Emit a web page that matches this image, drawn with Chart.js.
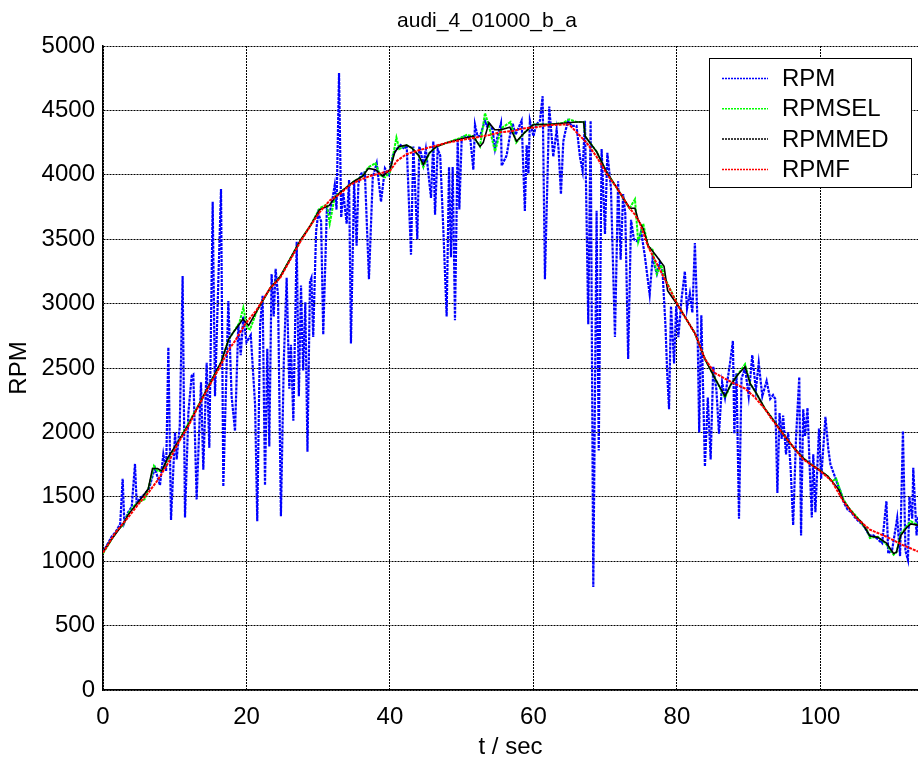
<!DOCTYPE html>
<html lang="en">
<head>
  <meta charset="UTF-8">
  <title>audi_4_01000_b_a</title>
  <script src="https://cdn.jsdelivr.net/npm/chart.js"></script>
  <style>
    html, body {
      margin: 0;
      padding: 0;
      background: #fff;
      overflow: hidden;
    }
    canvas {
      display: block;
    }
  </style>
</head>
<body>
  <canvas id="rpmChart" width="918" height="762"></canvas>

  <script>
    const chartTitle = 'audi_4_01000_b_a';
    const seriesNames = ['RPM', 'RPMSEL', 'RPMMED', 'RPMF'];
    const xTicks = [0, 20, 40, 60, 80, 100];
    const yTicks = [0, 500, 1000, 1500, 2000, 2500, 3000, 3500, 4000, 4500, 5000];

    // raw RPM (blue)
    const rpmTime = [0.0, 0.6, 1.2, 1.8, 2.4, 2.74, 2.97, 3.5, 4.0, 4.46, 4.69, 5.2, 5.8, 6.4, 7.0, 7.25, 7.94, 8.41, 8.8, 9.11,
      9.48, 10.04, 10.27, 10.7, 11.1, 11.43, 11.9, 12.36, 12.59, 13.05, 13.66, 13.98, 14.45, 14.82, 15.29, 15.61, 16.45, 16.77, 17.47, 17.93,
      18.4, 18.86, 19.2, 19.56, 20.0, 20.6, 21.2, 21.5, 21.9, 22.25, 22.58, 22.9, 23.18, 23.5, 23.8, 24.06, 24.4, 24.8, 25.2, 25.6,
      25.97, 26.2, 26.53, 27.0, 27.3, 27.6, 27.9, 28.2, 28.5, 28.85, 29.05, 29.3, 29.7, 30.0, 30.4, 30.7, 31.2, 31.6, 32.0, 32.3,
      32.55, 32.9, 33.2, 33.5, 33.96, 34.3, 34.56, 35.0, 35.35, 35.6, 36.0, 36.5, 37.07, 37.6, 38.15, 38.75, 39.3, 39.86, 40.4, 40.93,
      41.5, 42.0, 42.33, 42.93, 43.26, 43.81, 44.09, 44.4, 44.65, 45.0, 45.72, 46.04, 46.28, 46.65, 47.0, 47.44, 47.9, 48.23, 48.5, 48.74,
      49.06, 49.44, 49.67, 50.0, 50.4, 50.7, 51.2, 51.62, 51.85, 52.2, 52.55, 53.24, 53.5, 53.8, 54.3, 54.64, 55.0, 55.47, 55.57, 56.26,
      56.7, 57.1, 57.5, 58.35, 58.8, 59.05, 59.3, 59.5, 60.0, 60.4, 60.9, 61.28, 61.6, 62.2, 62.76, 63.23, 63.5, 63.83, 64.16, 64.5,
      64.85, 65.3, 66.0, 66.48, 66.85, 67.18, 67.64, 67.97, 68.34, 68.8, 69.1, 69.5, 69.97, 70.3, 70.8, 71.36, 71.8, 72.15, 72.5, 72.8,
      73.2, 73.6, 74.0, 74.6, 75.0, 75.5, 76.2, 76.6, 77.2, 77.6, 78.0, 78.4, 78.65, 78.9, 79.17, 79.6, 79.9, 80.2, 80.65, 81.1,
      81.4, 81.8, 82.15, 82.5, 82.85, 83.1, 83.4, 83.9, 84.3, 84.7, 85.06, 85.5, 85.86, 86.3, 86.7, 87.4, 87.8, 88.0, 88.3, 88.65,
      89.0, 89.5, 90.0, 90.5, 91.0, 91.4, 91.9, 92.5, 93.0, 93.4, 93.7, 94.0, 94.3, 94.6, 94.8, 95.2, 95.5, 95.85, 96.2, 96.6,
      97.05, 97.3, 97.6, 97.85, 98.2, 98.5, 98.8, 99.0, 99.3, 99.8, 100.1, 100.7, 101.1, 101.4, 101.8, 102.3, 102.8, 103.3, 103.8, 104.3,
      104.8, 105.3, 105.8, 106.3, 106.8, 107.4, 108.0, 108.6, 109.2, 109.45, 110.0, 110.7, 111.1, 111.5, 111.85, 112.2, 112.4, 112.8, 112.94, 113.4,
      113.6];
    const rpm = [1070, 1130, 1190, 1230, 1290, 1640, 1300, 1380, 1420, 1755, 1450, 1490, 1520, 1560, 1680, 1720, 1590, 1830, 1700, 2660,
      1320, 2000, 1790, 2050, 3215, 1340, 2150, 2440, 2450, 1480, 2390, 1710, 2540, 1880, 3790, 2280, 3890, 1580, 3020, 2280,
      2010, 2840, 2600, 2900, 2700, 2755, 2214, 1310, 2840, 3060, 1590, 2650, 1890, 3230, 2900, 3270, 3060, 1350, 2550, 3200,
      2340, 2680, 2090, 3480, 2280, 3140, 2480, 3010, 1850, 3170, 3200, 2740, 3560, 3700, 3640, 2760, 3730, 3700, 3820, 3920,
      3730, 4790, 3670, 3860, 3620, 3960, 2690, 3950, 3450, 3930, 4010, 4020, 3190, 3980, 4090, 3790, 4050, 4000, 4150, 4200,
      4230, 4200, 4230, 3380, 4220, 3500, 4220, 4150, 4080, 4200, 3820, 4260, 3690, 4200, 4150, 3570, 2900, 4060, 3360, 4060,
      2870, 4280, 3730, 4290, 4300, 4300, 4280, 4040, 4390, 4300, 4300, 4420, 4380, 4400, 4350, 4200, 4300, 4400, 4070, 4150,
      4300, 4400, 4310, 4420, 3720, 4230, 4010, 4420, 4300, 4390, 4420, 4610, 3190, 4530, 4140, 4350, 4200, 3850, 4260, 4350,
      4420, 4380, 4380, 4140, 4030, 4420, 2840, 4420, 800, 3720, 1860, 4200, 3540, 4170, 3900, 2740, 3950, 3340, 3850, 3700,
      2570, 3650, 3500, 3480, 3560, 3380, 3070, 3350, 3230, 3320, 3240, 2830, 2450, 2180, 2980, 2535, 2980, 2740, 3040, 3250,
      2960, 3080, 2930, 3470, 2880, 2000, 2910, 1735, 2270, 1790, 2510, 2330, 1990, 2390, 2270, 2540, 2710, 1990, 2460, 1330,
      2420, 2500, 2280, 2600, 2330, 2540, 2280, 2400, 2260, 2290, 2260, 1530, 2150, 1950, 2130, 1830, 2000, 1720, 1280, 1960,
      2430, 1200, 2180, 1970, 2190, 1730, 1340, 1830, 1380, 2030, 1640, 2120, 1870, 1750, 1690, 1610, 1540, 1450, 1400, 1380,
      1340, 1310, 1290, 1250, 1200, 1200, 1170, 1140, 1466, 1060, 1090, 1335, 1040, 2010, 1080, 1010, 1500, 1330, 1725, 1200,
      1350];

    // RPMSEL (green)
    const selTime = [0, 1.2, 2.0, 2.8, 3.5, 4.5, 5.0, 5.8, 6.3, 7.1, 7.6, 8.2, 9.0, 10.5, 12.0, 13.5, 15.0, 16.5, 17.5, 18.2,
      19.0, 19.56, 20.1, 20.5, 21.5, 23.3, 24.7, 26.1, 27.5, 28.85, 30.2, 31.2, 31.6, 32.3, 33.0, 35.0, 36.2, 37.0, 38.0, 38.6,
      39.3, 40.0, 40.9, 41.3, 42.3, 43.0, 44.0, 44.65, 45.5, 46.5, 48.0, 50.0, 50.7, 51.6, 52.55, 53.24, 53.8, 54.64, 55.5, 56.8,
      57.6, 58.8, 60.0, 62.0, 64.0, 65.0, 66.0, 67.0, 67.2, 68.8, 70.2, 71.6, 73.4, 74.15, 74.6, 75.3, 76.0, 76.6, 77.2, 77.8,
      78.3, 80.2, 82.5, 83.9, 85.3, 86.7, 87.5, 88.5, 89.5, 90.2, 91.0, 92.3, 93.0, 94.0, 95.3, 96.3, 97.6, 98.5, 99.8, 101.0,
      101.6, 102.2, 102.7, 103.2, 104.0, 105.0, 105.8, 106.5, 106.9, 108.0, 109.2, 110.2, 110.6, 111.2, 112.0, 112.6, 113.6];
    const rpmSel = [1060, 1170, 1240, 1280, 1370, 1440, 1460, 1480, 1560, 1740, 1700, 1700, 1790, 1930, 2080, 2230, 2390, 2550, 2720, 2780,
      2850, 2970, 2810, 2800, 2950, 3120, 3210, 3350, 3490, 3600, 3740, 3770, 3620, 3830, 3860, 3950, 3990, 4060, 4090, 4000,
      3980, 4020, 4290, 4200, 4230, 4210, 4150, 4060, 4170, 4220, 4250, 4290, 4310, 4300, 4220, 4480, 4380, 4180, 4360, 4410,
      4250, 4330, 4390, 4390, 4400, 4430, 4410, 4410, 4300, 4180, 4020, 3900, 3740, 3810, 3480, 3620, 3440, 3420, 3230, 3300,
      3200, 2980, 2770, 2570, 2420, 2270, 2370, 2450, 2530, 2380, 2310, 2180, 2130, 2050, 1950, 1880, 1800, 1760, 1710, 1660,
      1620, 1640, 1560, 1480, 1410, 1350, 1290, 1240, 1180, 1190, 1130, 1050, 1070, 1210, 1270, 1310, 1280];

    // RPMMED (black)
    const medTime = [0, 1.2, 2.0, 2.8, 3.5, 4.5, 5.5, 6.3, 6.9, 7.6, 8.2, 9.0, 10.5, 12.0, 13.5, 15.0, 16.5, 17.5, 18.2, 19.0,
      19.5, 20.3, 21.5, 23.3, 24.7, 26.1, 27.5, 28.85, 30.2, 31.5, 32.3, 33.0, 35.0, 36.2, 37.0, 38.0, 39.0, 40.0, 40.7, 41.3,
      42.3, 43.0, 44.0, 44.65, 45.5, 46.5, 48.0, 50.0, 51.6, 52.55, 53.0, 53.8, 54.6, 55.5, 56.7, 57.65, 58.8, 60.0, 62.0, 64.0,
      66.0, 67.0, 67.2, 68.8, 70.2, 71.6, 73.4, 74.15, 74.6, 75.3, 76.0, 77.0, 78.2, 78.7, 80.2, 82.5, 83.9, 85.3, 86.7, 87.5,
      88.5, 89.5, 90.2, 91.0, 92.3, 93.0, 94.0, 95.3, 96.3, 97.6, 98.5, 99.8, 101.0, 101.6, 102.5, 103.2, 104.0, 105.0, 105.8, 106.9,
      108.0, 109.2, 110.2, 110.6, 111.2, 112.0, 112.6, 113.6];
    const rpmMed = [1070, 1170, 1230, 1290, 1360, 1430, 1500, 1560, 1720, 1720, 1700, 1800, 1930, 2070, 2230, 2390, 2550, 2720, 2780, 2840,
      2880, 2830, 2950, 3120, 3210, 3350, 3490, 3600, 3730, 3760, 3820, 3860, 3950, 3990, 4050, 4040, 3990, 4040, 4180, 4220,
      4230, 4210, 4150, 4080, 4170, 4220, 4250, 4280, 4300, 4220, 4250, 4405, 4350, 4350, 4370, 4260, 4330, 4390, 4390, 4400,
      4410, 4410, 4300, 4180, 4020, 3900, 3740, 3740, 3650, 3580, 3450, 3380, 3290, 3100, 2980, 2770, 2570, 2420, 2280, 2370,
      2450, 2510, 2380, 2310, 2180, 2130, 2050, 1950, 1880, 1800, 1760, 1710, 1660, 1620, 1560, 1470, 1410, 1340, 1300, 1195,
      1185, 1140, 1060, 1070, 1200, 1260, 1290, 1280];

    // RPMF (red, filtered)
    const fTime = [0, 1.7, 3.5, 4.9, 6.3, 7.7, 9.1, 10.5, 11.9, 13.3, 14.7, 16.1, 17.5, 18.4, 19.8, 21.4, 23.3, 24.7, 26.1, 27.5,
      28.85, 30.2, 31.6, 33.0, 34.4, 35.8, 37.2, 38.5, 40.0, 41.0, 42.3, 44.0, 46.0, 48.0, 50.0, 52.0, 54.0, 55.3, 57.1, 58.5,
      60.4, 62.0, 64.2, 65.0, 66.0, 67.4, 68.8, 70.2, 71.6, 73.4, 74.15, 74.8, 76.0, 78.3, 80.2, 82.5, 83.9, 85.3, 87.6, 89.5,
      90.9, 92.3, 93.0, 95.3, 97.6, 99.8, 101.6, 103.2, 105.0, 106.9, 109.2, 111.5, 113.6];
    const rpmF = [1065, 1220, 1340, 1440, 1530, 1635, 1765, 1920, 2050, 2205, 2350, 2490, 2640, 2710, 2840, 2950, 3120, 3200, 3340, 3480,
      3600, 3710, 3800, 3850, 3920, 3960, 3990, 4010, 4030, 4110, 4160, 4190, 4220, 4250, 4270, 4290, 4310, 4330, 4340, 4360,
      4370, 4385, 4390, 4390, 4330, 4250, 4140, 4010, 3900, 3740, 3690, 3630, 3440, 3190, 2980, 2770, 2570, 2460, 2390, 2340,
      2270, 2180, 2120, 1950, 1790, 1710, 1620, 1465, 1335, 1245, 1190, 1125, 1075];

    const FONT = '"Liberation Sans", Arial, Helvetica, sans-serif';
    Chart.defaults.font.family = FONT;
    Chart.defaults.font.size = 24;
    Chart.defaults.color = '#000';

    const toPoints = (xs, ys) => xs.map((x, i) => ({ x: x, y: ys[i] }));

    const styles = [
      { color: '#0000ff', width: 2.2, dash: [3, 1] },
      { color: '#00ff00', width: 2, dash: [3, 1] },
      { color: '#000000', width: 1.6, dash: [] },
      { color: '#ff0000', width: 2, dash: [3, 1] }
    ];

    // title and legend box, drawn like the matlab figure
    const figureExtras = {
      id: 'figureExtras',
      afterDraw(chart) {
        const ctx = chart.ctx;
        ctx.save();
        ctx.font = '21px ' + FONT;
        ctx.fillStyle = '#000';
        ctx.textAlign = 'center';
        ctx.textBaseline = 'middle';
        ctx.fillText(chartTitle, 487, 21);

        const bx = 709, by = 58, bw = 202, bh = 129;
        ctx.fillStyle = '#fff';
        ctx.fillRect(bx, by, bw, bh);
        ctx.strokeStyle = '#000';
        ctx.lineWidth = 1;
        ctx.setLineDash([]);
        ctx.strokeRect(bx + 0.5, by + 0.5, bw, bh);

        ctx.font = '24px ' + FONT;
        ctx.textAlign = 'left';
        seriesNames.forEach((name, i) => {
          const y = 78.5 + i * 30.3;
          ctx.beginPath();
          ctx.setLineDash([2, 1]);
          ctx.strokeStyle = styles[i].color;
          ctx.lineWidth = 1.5;
          ctx.moveTo(722, y);
          ctx.lineTo(768, y);
          ctx.stroke();
          ctx.setLineDash([]);
          ctx.fillStyle = '#000';
          ctx.fillText(name, 782, y + 1);
        });
        ctx.restore();
      }
    };

    const seriesData = [
      toPoints(rpmTime, rpm),
      toPoints(selTime, rpmSel),
      toPoints(medTime, rpmMed),
      toPoints(fTime, rpmF)
    ];

    new Chart(document.getElementById('rpmChart'), {
      type: 'line',
      data: {
        datasets: seriesNames.map((name, i) => ({
          label: name,
          data: seriesData[i],
          borderColor: styles[i].color,
          borderWidth: styles[i].width,
          borderDash: styles[i].dash,
          pointRadius: 0,
          tension: 0,
          fill: false,
          order: 3 - i
        }))
      },
      options: {
        responsive: false,
        animation: false,
        layout: { padding: { top: 46, right: 0, left: 0, bottom: 0 } },
        plugins: {
          legend: { display: false },
          title: { display: false },
          tooltip: { enabled: false }
        },
        scales: {
          x: {
            type: 'linear',
            min: 0,
            max: 113.6,
            afterBuildTicks: s => { s.ticks = xTicks.map(v => ({ value: v })); },
            afterFit: s => { s.height = 72; },
            ticks: { padding: 13, maxRotation: 0, autoSkip: false, callback: v => String(v) },
            grid: { color: '#000', lineWidth: 1, drawTicks: false },
            border: { color: '#000', width: 1.5, dash: [2, 1] },
            title: { display: true, text: 't / sec', padding: { top: 0, bottom: 0 } }
          },
          y: {
            type: 'linear',
            min: 0,
            max: 5000,
            afterBuildTicks: s => { s.ticks = yTicks.map(v => ({ value: v })); },
            afterFit: s => { s.width = 103; },
            ticks: { padding: 8, autoSkip: false, callback: v => String(v) },
            grid: { color: '#000', lineWidth: 1, drawTicks: false },
            border: { color: '#000', width: 1.5, dash: [2, 1] },
            title: { display: true, text: 'RPM', padding: { top: 5, bottom: 0 } }
          }
        }
      },
      plugins: [figureExtras]
    });
  </script>
</body>
</html>
